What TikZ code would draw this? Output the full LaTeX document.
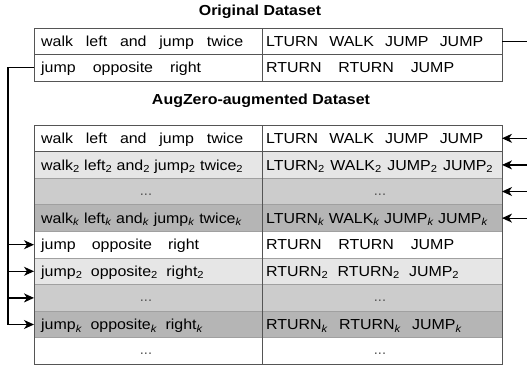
\documentclass[tikz,border=0pt]{standalone}
\usepackage{graphicx}
\usepackage{fontspec}
\setmainfont{Liberation Sans}
\usetikzlibrary{arrows.meta}
\definecolor{framegray}{HTML}{555555}
\definecolor{sepgray}{HTML}{A0A0A0}
\definecolor{rowlight}{HTML}{E6E6E6}
\definecolor{rowmid}{HTML}{CCCCCC}
\definecolor{rowdark}{HTML}{B5B5B5}
\definecolor{dotgray}{HTML}{555555}
\newcommand\subtwo{\textsubscript{2}}
\newcommand\subk{\textsubscript{\textit{k}}}
\newcommand\hstr[1]{\scalebox{1.1}[1]{#1}}
\newcommand\spr[2]{\hstr{\makebox[\dimexpr #1pt*100/110\relax][s]{#2}}}
\begin{document}
\begin{tikzpicture}[x=1pt,y=-1pt,
  rowbox/.style={draw=sepgray,line width=0.8pt,minimum width=468pt,minimum height=26.6pt,inner sep=0pt,outer sep=0pt},
  origrow/.style={rowbox,draw=framegray,minimum height=26.5pt},
  frame/.style={draw=framegray,line width=1pt},
  txt/.style={anchor=base west,inner sep=0pt,font=\fontsize{14.5}{16}\selectfont},
  dots/.style={anchor=base,inner sep=0pt,font=\fontsize{14.5}{16}\selectfont,text=dotgray},
  title/.style={inner sep=0pt,font=\fontsize{14.5}{16}\selectfont\bfseries},
  conn/.style={line width=1.2pt,black},
  arr/.style={conn,-{Stealth[length=10pt,width=9pt,inset=3pt]}}]
\useasboundingbox (0,0) rectangle (527,367);
\fill[white] (0,0) rectangle (527,367);

% titles
\node[title] (t1) at (260,12) {\hstr{Original Dataset}};
\node[title] (t2) at (261,101) {\hstr{AugZero-augmented Dataset}};

% original table
\node[origrow,fill=white] (o1) at (268,41.25) {};
\node[origrow,fill=white] (o2) at (268,67.75) {};
\draw[frame] (262,28) -- (262,81);
\node[txt] (o1l) at (41,46.3) {\spr{202}{walk left and jump twice}};
\node[txt] (o1r) at (266,46.3) {\spr{217}{LTURN WALK JUMP JUMP}};
\node[txt] (o2l) at (41,72.8) {\spr{160}{jump opposite right}};
\node[txt] (o2r) at (266,72.8) {\spr{188}{RTURN RTURN JUMP}};

% augmented table rows
\node[rowbox,fill=white]    (a1) at (268,138.3) {};
\node[rowbox,fill=rowlight] (a2) at (268,164.9) {};
\node[rowbox,fill=rowmid]   (a3) at (268,191.5) {};
\node[rowbox,fill=rowdark]  (a4) at (268,218.1) {};
\node[rowbox,fill=white]    (a5) at (268,244.7) {};
\node[rowbox,fill=rowlight] (a6) at (268,271.3) {};
\node[rowbox,fill=rowmid]   (a7) at (268,297.9) {};
\node[rowbox,fill=rowdark]  (a8) at (268,324.5) {};
\node[rowbox,fill=white]    (a9) at (268,351.1) {};
\draw[frame] (a1.north west) rectangle (a9.south east);
\draw[frame] (a1.north west) rectangle (a1.south east);
\draw[frame] (262,125) -- (262,364.4);

\node[txt] (a1l) at (41,143.4) {\spr{202}{walk left and jump twice}};
\node[txt] (a1r) at (266,143.4) {\spr{217}{LTURN WALK JUMP JUMP}};
\node[txt] (a2l) at (41,170) {\spr{202}{walk\subtwo{} left\subtwo{} and\subtwo{} jump\subtwo{} twice\subtwo}};
\node[txt] (a2r) at (266,170) {\spr{227}{LTURN\subtwo{} WALK\subtwo{} JUMP\subtwo{} JUMP\subtwo}};
\node[dots] (a3l) at (146,195) {...};
\node[dots] (a3r) at (380,195) {...};
\node[txt] (a4l) at (41,223.2) {\spr{201}{walk\subk{} left\subk{} and\subk{} jump\subk{} twice\subk}};
\node[txt] (a4r) at (266,223.2) {\spr{222}{LTURN\subk{} WALK\subk{} JUMP\subk{} JUMP\subk}};
\node[txt] (a5l) at (41,249.8) {\spr{158}{jump opposite right}};
\node[txt] (a5r) at (266,249.8) {\spr{188}{RTURN RTURN JUMP}};
\node[txt] (a6l) at (41,276.4) {\spr{163}{jump\subtwo{} opposite\subtwo{} right\subtwo}};
\node[txt] (a6r) at (266,276.4) {\spr{193}{RTURN\subtwo{} RTURN\subtwo{} JUMP\subtwo}};
\node[dots] (a7l) at (146,301.4) {...};
\node[dots] (a7r) at (380,301.4) {...};
\node[txt] (a8l) at (41,329.6) {\spr{162}{jump\subk{} opposite\subk{} right\subk}};
\node[txt] (a8r) at (266,329.6) {\spr{196}{RTURN\subk{} RTURN\subk{} JUMP\subk}};
\node[dots] (a9l) at (146,354.6) {...};
\node[dots] (a9r) at (380,354.6) {...};

% connectors
\coordinate (L) at (8,324.5);
\coordinate (R) at (527,41.25);
\draw[conn] (o1.east) -- (o1.east -| R);
\draw[arr] (o2.west) -| (L) -- (a8.west);
\draw[arr] (a5.west -| L) -- (a5.west);
\draw[arr] (a6.west -| L) -- (a6.west);
\draw[arr] (a7.west -| L) -- (a7.west);
\draw[arr] (a1.east -| R) -- (a1.east);
\draw[arr] (a2.east -| R) -- (a2.east);
\draw[arr] (a3.east -| R) -- (a3.east);
\draw[arr] (a4.east -| R) -- (a4.east);
\end{tikzpicture}
\end{document}
